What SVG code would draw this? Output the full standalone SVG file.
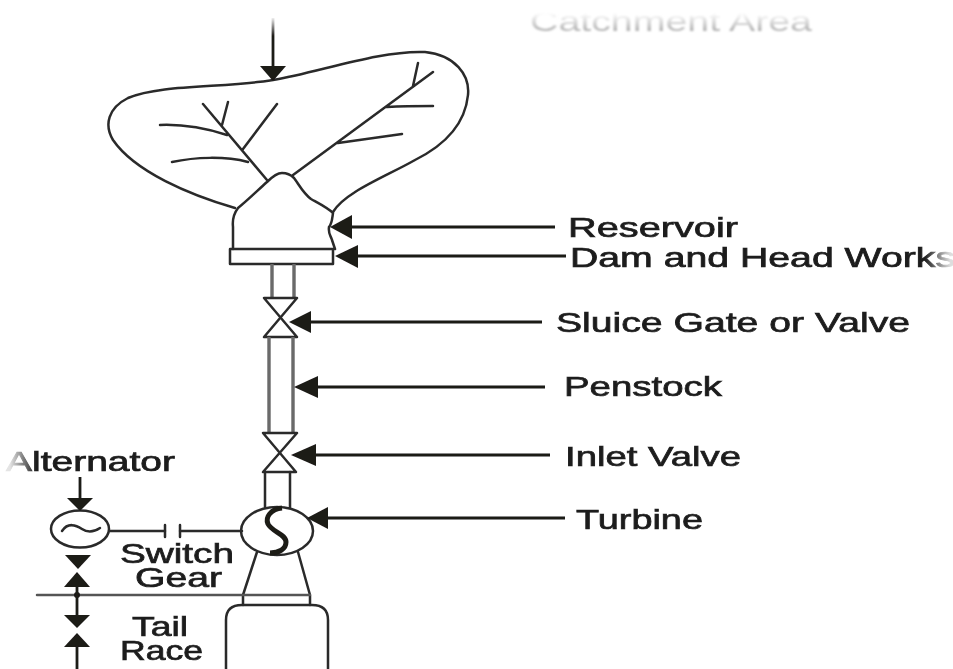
<svg xmlns="http://www.w3.org/2000/svg" width="953" height="669" viewBox="0 0 953 669">
<style>
.l{fill:none;stroke:#2a2a2a;stroke-width:2.5;stroke-linejoin:round;stroke-linecap:round}
.g{fill:none;stroke:#6a6a6a;stroke-width:3.4}
.a{fill:#1c1a18;stroke:none}
.c{fill:none;stroke:#1c1a18;stroke-width:2.8}
text{font-family:"Liberation Sans",Arial,sans-serif;font-size:28px;fill:#1e1e1e;stroke:#1e1e1e;stroke-width:.7}
</style>
<defs>
<filter id="b" x="-2%" y="-2%" width="104%" height="104%"><feGaussianBlur stdDeviation="0.75"/></filter>
<filter id="b2" x="-5%" y="-50%" width="110%" height="200%"><feGaussianBlur stdDeviation="1"/></filter>
<linearGradient id="fadeT" gradientUnits="userSpaceOnUse" x1="0" y1="13" x2="0" y2="31"><stop offset="0" stop-color="#fff"/><stop offset="1" stop-color="#b0b0b0"/></linearGradient>
<linearGradient id="fadeV" gradientUnits="userSpaceOnUse" x1="0" y1="18" x2="0" y2="36"><stop offset="0" stop-color="#eee"/><stop offset="1" stop-color="#1c1a18"/></linearGradient>
<linearGradient id="fadeA" gradientUnits="userSpaceOnUse" x1="10" y1="0" x2="36" y2="0"><stop offset="0" stop-color="#e4e4e4"/><stop offset="1" stop-color="#1e1e1e"/></linearGradient>
<linearGradient id="fadeD" gradientUnits="userSpaceOnUse" x1="925" y1="0" x2="950" y2="0"><stop offset="0" stop-color="#1e1e1e"/><stop offset="1" stop-color="#ddd"/></linearGradient>
</defs>
<rect width="953" height="669" fill="#fff"/>
<g filter="url(#b)">
<g id="catchment-area">
<path class="l" d="M235,208C190,195 135,172 113,140C104,125 108,108 128,98C160,84 225,88 273,80C320,72 380,50 425,52C455,55 470,75 468,95C465,125 445,145 415,160C385,177 345,192 333,212"/>
<path class="l" d="M203,104L267,180M228,102L222,125M277,104L243,149M160,125C185,124 205,128 227,135M172,162C195,157 225,156 248,162M293,175L433,72M418,63L413,86M387,107C405,106 420,106 433,106M338,143L402,134"/>
</g>
<g id="reservoir">
<path class="l" d="M233,249V227C232,218 235,212 238,208C248,200 258,190 267,182C273,176 277,173 282,173C288,173 291,175 294,178C300,186 303,193 311,199C320,204 328,208 333,213C332,220 332,224 329,227C328,234 331,236 332,240L335,249"/>
</g>
<g id="dam"><rect class="l" x="230" y="249" width="103" height="15"/></g>
<g id="sluice-valve">
<path class="g" d="M272,264V297M294,264V297"/>
<path class="l" d="M264,298H297L264,337H297Z"/>
</g>
<g id="penstock"><path class="g" d="M269,337V433M293,337V433"/></g>
<g id="inlet-valve">
<path class="l" d="M263,433H297L263,472H296Z"/>
<path class="l" d="M265,472V507M290,472V507"/>
</g>
<g id="turbine">
<ellipse class="l" cx="277" cy="531" rx="36" ry="24" fill="#fff"/>
<path d="M282,508C271,509 265,517 268,524C272,532 286,534 286,542C286,549 279,553 270,553" fill="none" stroke="#1c1a18" stroke-width="5"/>
</g>
<g id="alternator">
<ellipse class="l" cx="80" cy="529" rx="29" ry="18.5"/>
<path class="l" d="M62,531C68,522 76,525 82,529C88,533 94,532 100,528"/>
</g>
<g id="switch-gear"><path class="l" d="M165,525V537M180,525V537"/></g>
<g id="draft-tube"><path class="l" d="M257,552L243,595V605M298,552L310,595V605"/></g>
<g id="tail-race"><path class="l" d="M226,669V620Q226,605 242,605H312Q328,605 328,620V669"/></g>
<g id="connectors">
<path class="c" style="stroke:url(#fadeV)" d="M273,18V68"/>
<polygon class="a" points="260,66 286,66 273,81"/>
<path class="c" d="M350,227H555"/><polygon class="a" points="330,227 352,215 352,239"/>
<path class="c" d="M355,256H566"/><polygon class="a" points="335,256 358,245 358,268"/>
<path class="c" d="M308,322H542"/><polygon class="a" points="289,322 311,311 311,333"/>
<path class="c" d="M315,387H545"/><polygon class="a" points="294,387 318,376 318,398"/>
<path class="c" d="M313,455H550"/><polygon class="a" points="291,455 316,444 316,466"/>
<path class="c" d="M325,518H565"/><polygon class="a" points="307,518 328,507 328,529"/>
<path class="c" d="M80,477V500"/><polygon class="a" points="67,498 93,498 80,511"/>
<path class="l" d="M110,531H165M180,531H242"/>
<polygon class="a" points="65,555 91,555 78,569"/>
<polygon class="a" points="64,587 90,587 77,572"/>
<path class="l" style="stroke:#555" d="M37,595H310"/>
<circle class="a" cx="77" cy="595" r="3"/>
<path class="c" d="M77,587V617"/><polygon class="a" points="64,615 90,615 77,628"/>
<polygon class="a" points="64,647 90,647 77,633"/>
<path class="c" d="M77,645V669"/>
</g>
<g id="labels">
<text x="568" y="237" textLength="170" lengthAdjust="spacingAndGlyphs">Reservoir</text>
<text x="570" y="267" textLength="385" lengthAdjust="spacingAndGlyphs" style="fill:url(#fadeD);stroke:url(#fadeD)">Dam and Head Works</text>
<text x="556" y="332" textLength="354" lengthAdjust="spacingAndGlyphs">Sluice Gate or Valve</text>
<text x="564" y="396" textLength="158" lengthAdjust="spacingAndGlyphs">Penstock</text>
<text x="565" y="466" textLength="176" lengthAdjust="spacingAndGlyphs">Inlet Valve</text>
<text x="576" y="529" textLength="127" lengthAdjust="spacingAndGlyphs">Turbine</text>
<text x="6" y="471" textLength="169" lengthAdjust="spacingAndGlyphs" style="fill:url(#fadeA);stroke:url(#fadeA)">Alternator</text>
<text x="120" y="563" textLength="114" lengthAdjust="spacingAndGlyphs">Switch</text>
<text x="135" y="587" textLength="87" lengthAdjust="spacingAndGlyphs">Gear</text>
<text x="132" y="636" textLength="56" lengthAdjust="spacingAndGlyphs">Tail</text>
<text x="120" y="660" textLength="83" lengthAdjust="spacingAndGlyphs">Race</text>
</g>
</g>
<text x="530" y="31" textLength="282" lengthAdjust="spacingAndGlyphs" filter="url(#b2)" style="fill:url(#fadeT);stroke:none">Catchment Area</text>
</svg>
